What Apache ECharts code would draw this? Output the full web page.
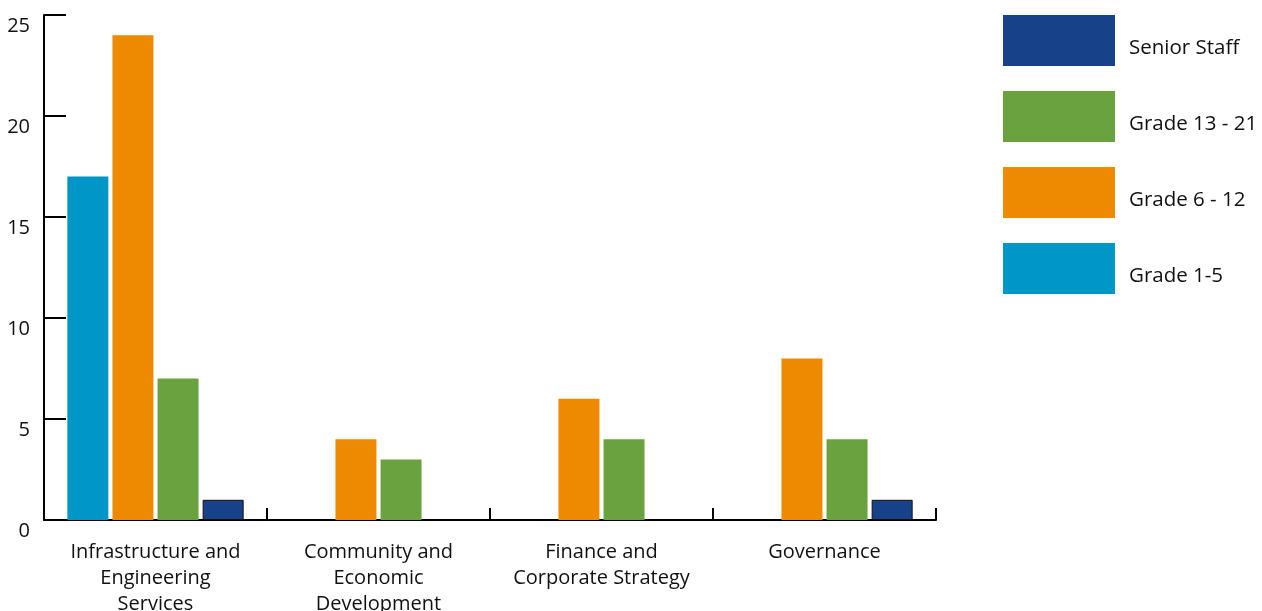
<!DOCTYPE html>
<html>
<head>
<meta charset="utf-8">
<script src="https://cdn.jsdelivr.net/npm/echarts@6/dist/echarts.min.js"></script>
<style>
html,body{margin:0;padding:0;background:#fff;}
#c{width:1262px;height:611px;}
</style>
</head>
<body>
<div id="c"></div>
<script>
const categories = ['Infrastructure and\nEngineering\nServices', 'Community and\nEconomic\nDevelopment', 'Finance and\nCorporate Strategy', 'Governance'];
const seriesNames = ['Grade 1-5', 'Grade 6 - 12', 'Grade 13 - 21', 'Senior Staff'];
const grade1to5 = [17, 0, 0, 0];
const grade6to12 = [24, 4, 6, 8];
const grade13to21 = [7, 3, 4, 4];
const seniorStaff = [1, 0, 0, 1];
const yTicks = [0, 5, 10, 15, 20, 25];

const colors = ['#0096c8', '#ee8a00', '#6aa33e', '#17428a'];
const allData = [grade1to5, grade6to12, grade13to21, seniorStaff];
const FONT = '"Open Sans", "Noto Sans", sans-serif';

const chart = echarts.init(document.getElementById('c'), null, {renderer: 'canvas'});
chart.setOption({
  animation: false,
  backgroundColor: '#fff',
  textStyle: {fontFamily: FONT},
  grid: {left: 44, width: 892, top: 15, height: 505, containLabel: false, outerBoundsMode: 'none'},
  legend: {
    orient: 'vertical',
    left: 1003,
    top: 15,
    padding: 0,
    itemWidth: 112,
    itemHeight: 51,
    itemGap: 25,
    icon: 'rect',
    itemStyle: {borderWidth: 0},
    data: seriesNames.slice().reverse(),
    formatter: n => '{a|' + n + '}',
    textStyle: {
      rich: {a: {fontSize: 20.5, color: '#111', fontFamily: FONT, padding: [16, 0, 0, 9]}}
    }
  },
  xAxis: {
    type: 'category',
    data: categories,
    axisLine: {lineStyle: {color: '#000', width: 2}},
    axisTick: {show: true, inside: true, length: 12, lineStyle: {color: '#000', width: 2}},
    axisLabel: {fontSize: 20, lineHeight: 26, color: '#111', margin: 19, fontFamily: FONT, interval: 0}
  },
  yAxis: {
    type: 'value',
    min: yTicks[0],
    max: yTicks[yTicks.length - 1],
    interval: 5,
    axisLine: {show: true, lineStyle: {color: '#000', width: 2}},
    axisTick: {show: true, inside: true, length: 22, lineStyle: {color: '#000', width: 2}},
    splitLine: {show: false},
    axisLabel: {fontSize: 20, color: '#111', margin: 14, fontFamily: FONT, verticalAlign: 'top', lineHeight: 22}
  },
  series: seriesNames.map((name, i) => ({
    name: name,
    type: 'bar',
    barWidth: 41,
    barGap: '10%',
    data: allData[i].map(v => v === 0 ? null : v),
    itemStyle: i === 3 ? {color: colors[i], borderColor: '#111', borderWidth: 1} : {color: colors[i]}
  }))
});
</script>
</body>
</html>
